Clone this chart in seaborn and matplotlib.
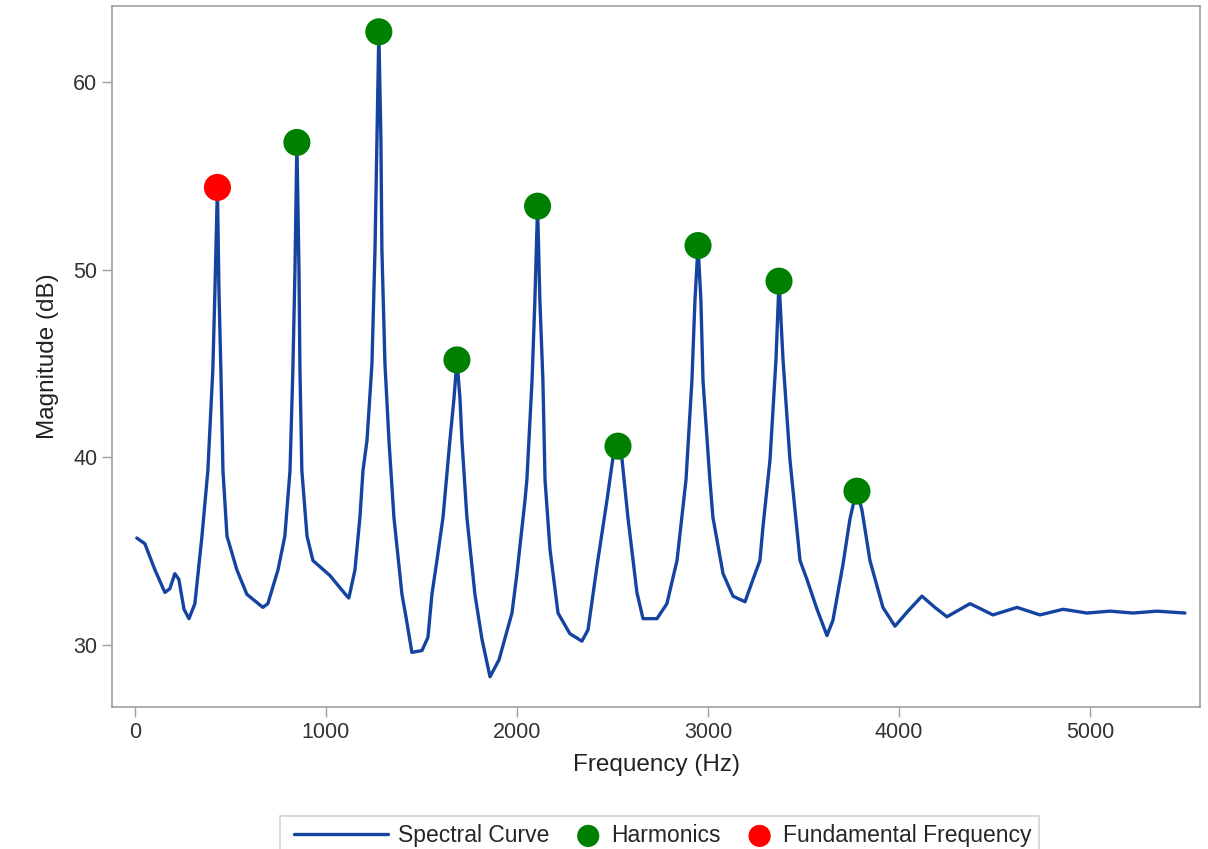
import numpy as np
import pandas as pd
import matplotlib
matplotlib.use("Agg")
import matplotlib.pyplot as plt
from matplotlib.legend_handler import HandlerLine2D
import seaborn as sns

# spectral curve, values
freq = [10, 52, 105, 157, 183, 209, 230, 257, 283, 314, 351, 382, 408, 419, 432,
        440, 450, 461, 482, 534, 586, 670,
        696, 749, 785, 812, 827, 838, 848,
        859, 864, 874, 901, 932, 1021, 1110, 1120,
        1152, 1178, 1194, 1215, 1241, 1257, 1267, 1277,
        1288, 1293, 1309, 1330, 1356, 1398, 1419, 1450, 1503, 1534, 1555, 1581,
        1613, 1649, 1670, 1686,
        1702, 1712, 1738, 1780, 1817, 1859, 1906, 1974, 2000, 2042, 2052, 2079, 2094, 2108,
        2120, 2136, 2147, 2173, 2215, 2277, 2340, 2372, 2419, 2471, 2503, 2529,
        2550, 2581, 2628, 2660, 2733, 2785, 2838, 2885, 2916, 2932, 2948,
        2963, 2974, 3010, 3026, 3079, 3131, 3194, 3236, 3272, 3288, 3325, 3356, 3372,
        3393, 3429, 3482, 3518, 3571, 3623, 3654, 3707, 3743, 3770, 3780,
        3806, 3848, 3916, 3979, 4047, 4120, 4188, 4251, 4372, 4492, 4618, 4738,
        4859, 4984, 5105, 5225, 5351, 5497]
mag = [35.7, 35.4, 34.0, 32.8, 33.0, 33.8, 33.5, 31.9, 31.4, 32.2, 35.8, 39.3, 44.7, 48.9, 54.4,
       48.9, 44.7, 39.3, 35.8, 34.0, 32.7, 32.0,
       32.2, 34.0, 35.8, 39.3, 44.7, 50.0, 56.8,
       50.0, 44.7, 39.3, 35.8, 34.5, 33.7, 32.6, 32.5,
       34.0, 36.8, 39.3, 40.9, 45.0, 51.1, 56.9, 62.7,
       56.9, 51.1, 45.0, 40.9, 36.8, 32.7, 31.5, 29.6, 29.7, 30.4, 32.7, 34.5,
       36.8, 40.9, 43.1, 45.2,
       43.1, 40.9, 36.8, 32.7, 30.3, 28.3, 29.2, 31.7, 33.8, 37.7, 38.8, 44.1, 48.4, 53.4,
       48.4, 44.1, 38.8, 35.1, 31.7, 30.6, 30.2, 30.8, 34.2, 37.7, 40.0, 40.6,
       39.9, 36.8, 32.8, 31.4, 31.4, 32.2, 34.5, 38.8, 44.1, 48.4, 51.3,
       48.4, 44.1, 38.8, 36.8, 33.8, 32.6, 32.3, 33.5, 34.5, 36.3, 39.9, 45.2, 49.4,
       45.2, 39.9, 34.5, 33.5, 31.9, 30.5, 31.3, 34.3, 36.7, 37.9, 38.2,
       37.2, 34.5, 32.0, 31.0, 31.8, 32.6, 32.0, 31.5, 32.2, 31.6, 32.0, 31.6,
       31.9, 31.7, 31.8, 31.7, 31.8, 31.7]

harm_freq = [848, 1277, 1686, 2108, 2529, 2948, 3372, 3780]
harm_mag = [56.8, 62.7, 45.2, 53.4, 40.6, 51.3, 49.4, 38.2]

fund_freq = [432]
fund_mag = [54.4]

curve = pd.DataFrame({"freq": freq, "mag": mag})
harm = pd.DataFrame({"freq": harm_freq, "mag": harm_mag})
fund = pd.DataFrame({"freq": fund_freq, "mag": fund_mag})


# longer legend line than the marker slots
class WideLine(HandlerLine2D):
    def legend_artist(self, legend, orig_handle, fontsize, handlebox):
        handlebox.width *= 2.87
        return super().legend_artist(legend, orig_handle, fontsize, handlebox)


sns.set_style("white")
plt.rcParams["font.family"] = ["Liberation Sans", "DejaVu Sans"]

fig = plt.figure(figsize=(12.08, 8.49), dpi=100)
ax = fig.add_axes([0.0927, 0.1673, 0.9007, 0.8257])

sns.lineplot(data=curve, x="freq", y="mag", ax=ax, color="#1543a0", linewidth=2.4,
             label="Spectral Curve", zorder=2)
sns.scatterplot(data=harm, x="freq", y="mag", ax=ax, color="#008000", s=380,
                edgecolor="none", label="Harmonics", zorder=3)
sns.scatterplot(data=fund, x="freq", y="mag", ax=ax, color="#ff0000", s=380,
                edgecolor="none", label="Fundamental Frequency", zorder=3)

ax.set_xlim(-120, 5576)
ax.set_ylim(26.69, 64.08)
ax.set_xticks([0, 1000, 2000, 3000, 4000, 5000])
ax.set_yticks([30, 40, 50, 60])
ax.set_xlabel("Frequency (Hz)", fontsize=17.5, color="#222222", labelpad=8)
ax.set_ylabel("Magnitude (dB)", fontsize=17.5, color="#222222", labelpad=10)
ax.tick_params(axis="both", labelsize=15.5, colors="#333333", length=7, width=1,
               color="#a0a0a0", direction="out", bottom=True, left=True)
for sp in ax.spines.values():
    sp.set_color("#a0a0a0")
    sp.set_linewidth(1.2)

handles, labels = ax.get_legend_handles_labels()
ax.get_legend().remove()
leg = fig.legend(handles, labels, loc="upper center", bbox_to_anchor=(0.546, 0.039),
                 ncol=3, fontsize=16.5, frameon=True, fancybox=False, edgecolor="#c8c8c8",
                 handlelength=1.6, columnspacing=0.9, handletextpad=0.2, borderpad=0.35,
                 borderaxespad=0, markerscale=0.82,
                 handler_map={handles[0]: WideLine(numpoints=2, marker_pad=0.25)})
leg.get_frame().set_linewidth(1.2)

fig.savefig("out.png", dpi=100)
